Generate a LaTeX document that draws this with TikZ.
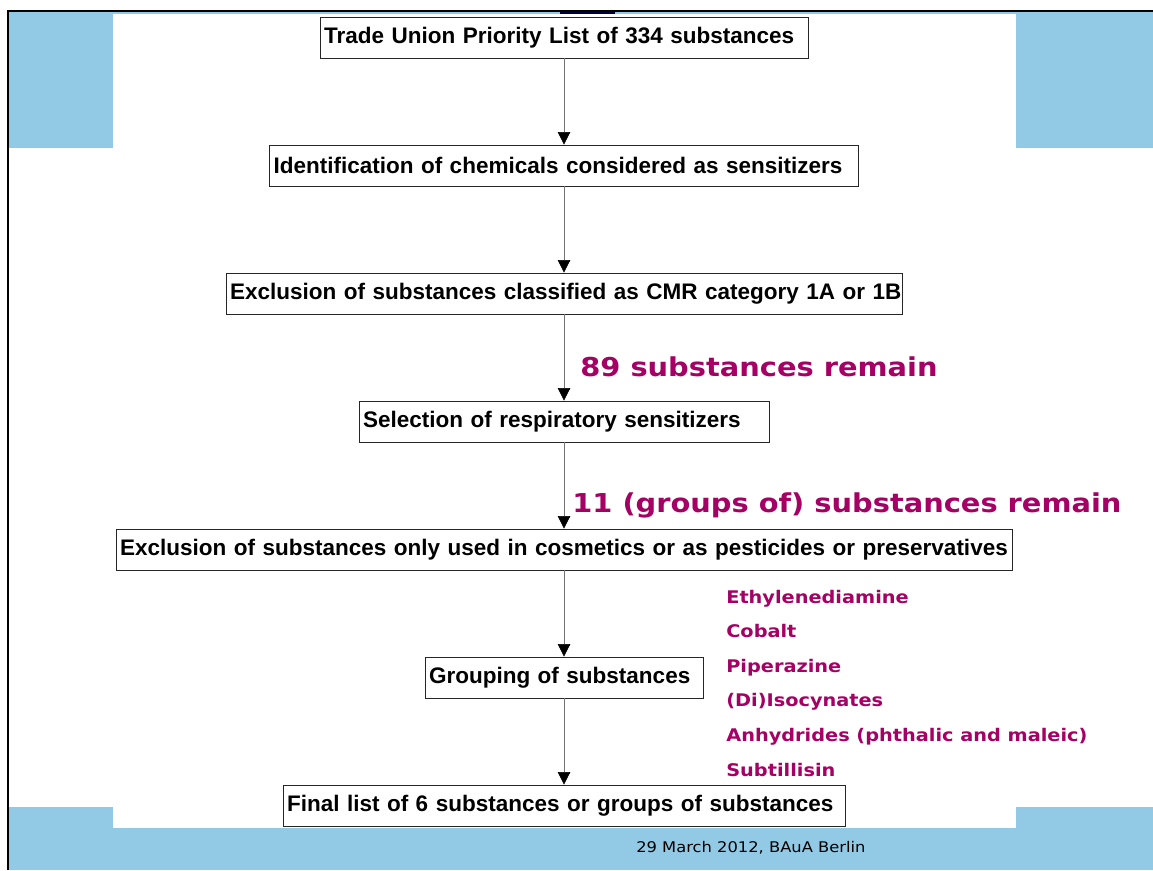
\documentclass[tikz,border=0pt]{standalone}
\usepackage{fontspec}
\setmainfont{Liberation Sans}
\newfontfamily\verdana[FakeStretch=1.11]{DejaVu Sans}
\usetikzlibrary{arrows.meta}
\definecolor{bauablue}{RGB}{146,202,230}
\definecolor{bauared}{RGB}{165,0,100}

\begin{document}
\begin{tikzpicture}[x=1pt,y=-1pt,->,>={Triangle[width=12.5pt,length=12.5pt,black]},
                    node distance=128pt,semithick]
  \tikzstyle{stage}=[draw=black!85,line width=0.8pt,fill=white,inner xsep=4pt,
                     inner ysep=2pt,minimum height=41pt,align=left,
                     font=\fontsize{22.5}{26}\selectfont\bfseries]
  \tikzstyle{remark}=[inner sep=0pt,anchor=base west,text=bauared,
                      font=\verdana\fontsize{26}{30}\selectfont\bfseries]
  \tikzstyle{item}=[inner sep=0pt,anchor=base west,text=bauared,
                    font=\verdana\fontsize{17.4}{20}\selectfont\bfseries]

  \useasboundingbox (0,0) rectangle (1153,870);
  % slide frame
  \fill[bauablue] (9,12) rectangle (1153,14);
  \fill[bauablue] (9,12) rectangle (113,148);
  \fill[bauablue] (1016,12) rectangle (1153,148);
  \fill[bauablue] (9,807) rectangle (113,870);
  \fill[bauablue] (1016,807) rectangle (1153,870);
  \fill[bauablue] (9,828) rectangle (1153,870);
  \fill[black!75!blue] (560,12) rectangle (615,14);
  \draw[-,line width=2.5pt] (8,870) -- (8,11) -- (1153,11);

  \node[stage,text width=480pt] (tulist) at (564,37.5)
        {\mbox{Trade Union Priority List of 334 substances}};
  \node[stage,text width=581pt] (ident) [below of=tulist]
        {\mbox{Identification of chemicals considered as sensitizers}};
  \node[stage,text width=668pt] (cmr)   [below of=ident]
        {\mbox{Exclusion of substances classified as CMR category 1A or 1B}};
  \node[stage,text width=402pt] (resp)  [below of=cmr]
        {\mbox{Selection of respiratory sensitizers}};
  \node[stage,text width=888pt] (usage) [below of=resp]
        {\mbox{Exclusion of substances only used in cosmetics or as pesticides or preservatives}};
  \node[stage,text width=270pt] (group) [below of=usage]
        {\mbox{Grouping of substances}};
  \node[stage,text width=554pt] (final) [below of=group]
        {\mbox{Final list of 6 substances or groups of substances}};

  \draw[draw=black!55] (tulist) -- (ident);
  \draw[draw=black!55] (ident) -- (cmr);
  \draw[draw=black!55] (cmr) -- (resp);
  \draw[draw=black!55] (resp) -- (usage);
  \draw[draw=black!55] (usage) -- (group);
  \draw[draw=black!55] (group) -- (final);

  \node[remark] (remain89) at (580,376) {89 substances remain};
  \node[remark] (remain11) at (572,512.5) {11 (groups of) substances remain};

  \node[item] (ethyl)  at (726,603)   {Ethylenediamine};
  \node[item] (cobalt) at (726,637.6) {Cobalt};
  \node[item] (piper)  at (726,672.2) {Piperazine};
  \node[item] (isocy)  at (726,706.8) {(Di)Isocynates};
  \node[item] (anhyd)  at (726,741.4) {Anhydrides (phthalic and maleic)};
  \node[item] (subtil) at (726,776)   {Subtillisin};

  \node[inner sep=0pt,anchor=base west,font=\verdana\fontsize{14.7}{17}\selectfont]
        (footer) at (636,852.5) {29 March 2012, BAuA Berlin};
\end{tikzpicture}
\end{document}
